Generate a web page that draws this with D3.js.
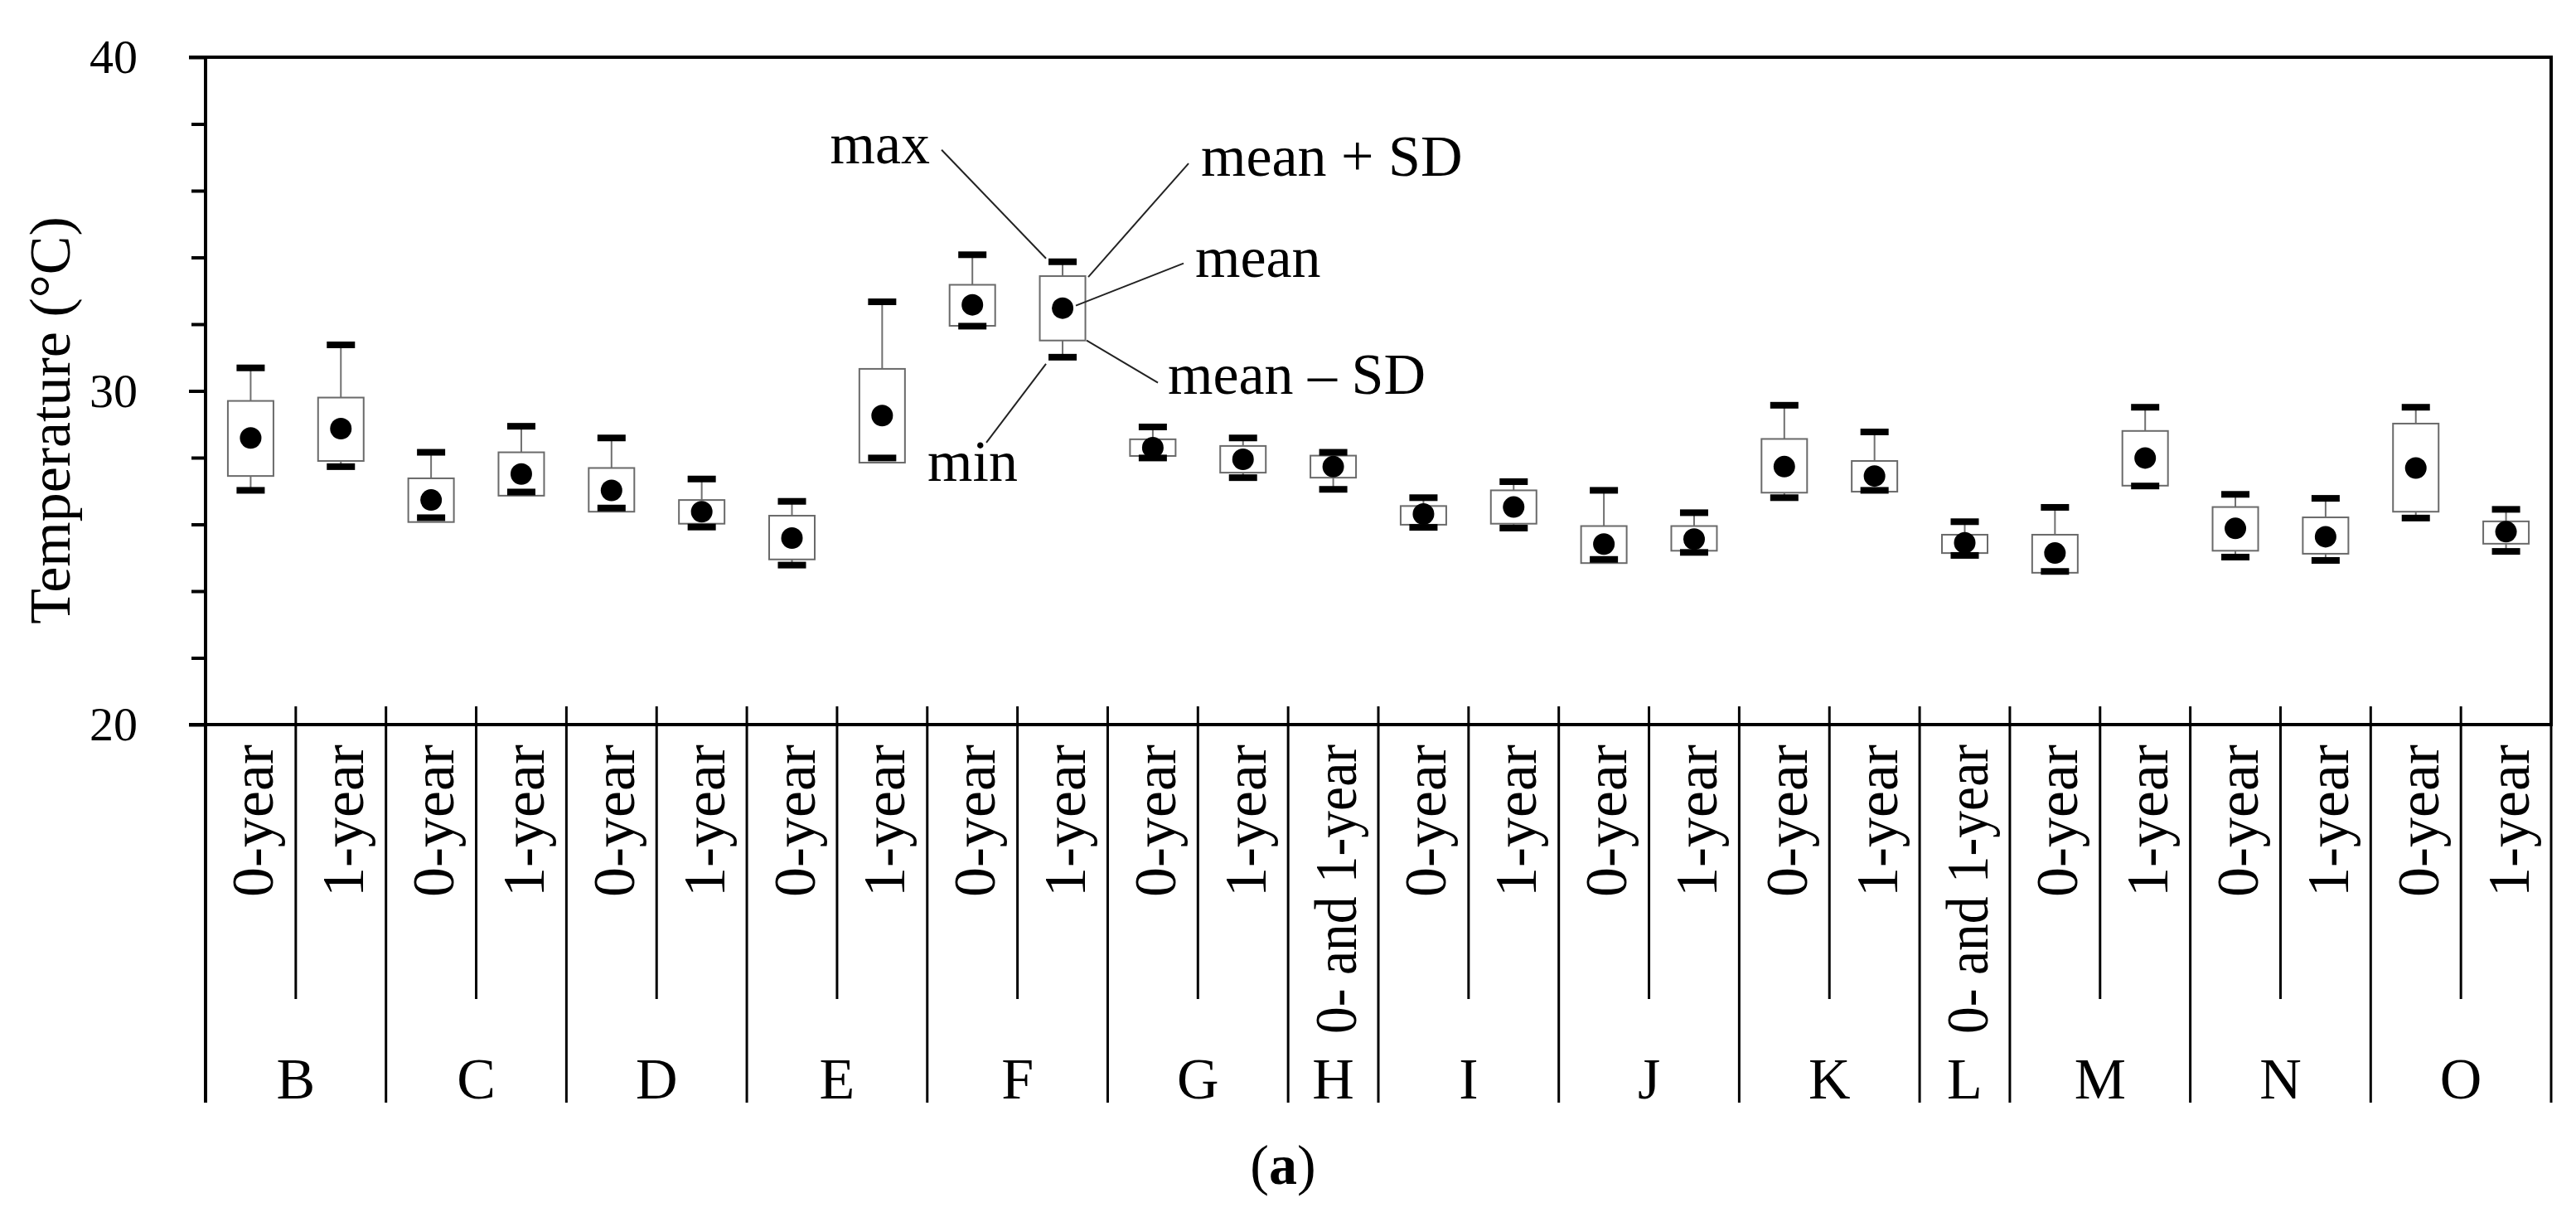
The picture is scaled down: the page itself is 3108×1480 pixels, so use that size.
<!DOCTYPE html>
<html>
<head>
<meta charset="utf-8">
<script src="https://cdn.jsdelivr.net/npm/d3@7"></script>
<style>
  html, body { margin: 0; padding: 0; background: #fff; }
  svg { display: block; }
  text { font-family: 'Liberation Serif', 'Times New Roman', serif; fill: #000; }
</style>
</head>
<body>
<svg id="chart" width="3108" height="1480"></svg>
<script>
// ---------------- data ----------------
const groups       = ["B","C","D","E","F","G","H","I","J","K","L","M","N","O"];
const categoryGroup = ["B","B","C","C","D","D","E","E","F","F","G","G","H","I","I","J","J","K","K","L","M","M","N","N","O","O"];
const categoryLabel = ["0-year","1-year","0-year","1-year","0-year","1-year","0-year","1-year","0-year","1-year",
                       "0-year","1-year","0- and 1-year","0-year","1-year","0-year","1-year","0-year","1-year",
                       "0- and 1-year","0-year","1-year","0-year","1-year","0-year","1-year"];
const maxValues   = [30.69,31.38,28.16,28.94,28.59,27.36,26.69,32.67,34.08,33.87,28.92,28.59,28.16,26.80,27.28,27.02,26.35,29.57,28.77,26.08,26.51,29.51,26.90,26.78,29.51,26.45];
const meanPlusSD  = [29.70,29.80,27.38,28.16,27.69,26.73,26.26,30.66,33.18,33.44,28.55,28.35,28.06,26.55,27.02,25.95,25.95,28.56,27.90,25.69,25.69,28.80,26.52,26.21,29.02,26.09];
const meanValues  = [28.59,28.87,26.73,27.51,27.02,26.38,25.59,29.26,32.58,32.48,28.30,27.95,27.73,26.31,26.52,25.41,25.56,27.73,27.45,25.45,25.14,27.99,25.88,25.63,27.69,25.78];
const meanMinusSD = [27.45,27.90,26.07,26.86,26.38,26.02,24.95,27.85,31.95,31.51,28.05,27.55,27.40,25.99,26.02,24.84,25.21,26.95,26.98,25.14,24.55,27.16,25.21,25.12,26.38,25.42];
const minValues   = [27.02,27.73,26.20,26.97,26.49,25.92,24.78,27.99,31.94,31.01,27.99,27.40,27.05,25.91,25.89,24.95,25.16,26.80,27.02,25.07,24.59,27.15,25.02,24.92,26.19,25.19];
const majorTicks = [20,30,40];
const minorTicks = [22,24,26,28,32,34,36,38];
const yTitle = "Temperature (°C)";
const annotationIndex = 9; // F 1-year box carries the legend annotations

// ---------------- layout ----------------
const svg = d3.select("#chart");
svg.append("rect").attr("width",3108).attr("height",1480).attr("fill","#fff");

const plotLeft = 248, plotRight = 3078, plotTop = 69, plotBottom = 874;
const divLong = 1330, divShort = 1205;

const idx = d3.range(categoryLabel.length);
const x = d3.scaleBand().domain(idx).range([plotLeft, plotRight]).padding(0);
const y = d3.scaleLinear().domain([20, 40]).range([plotBottom, plotTop]);
const bw = x.bandwidth();
const cxOf = i => x(i) + bw / 2;

// ---------------- y axis ----------------
const gMajor = svg.append("g").attr("transform", `translate(${plotLeft},0)`)
  .call(d3.axisLeft(y).tickValues(majorTicks).tickSize(20).tickPadding(62).tickFormat(d3.format("d")));
gMajor.select(".domain").remove();
gMajor.selectAll(".tick line").attr("stroke","#000").attr("stroke-width",4);
gMajor.selectAll(".tick text").attr("font-size",58).attr("font-family","'Liberation Serif', serif").attr("fill","#000");

const gMinor = svg.append("g").attr("transform", `translate(${plotLeft},0)`)
  .call(d3.axisLeft(y).tickValues(minorTicks).tickSize(17).tickFormat(""));
gMinor.select(".domain").remove();
gMinor.selectAll(".tick line").attr("stroke","#000").attr("stroke-width",4);

// frame lines
svg.append("line").attr("x1",plotLeft-20).attr("x2",plotRight+2).attr("y1",plotTop).attr("y2",plotTop)
  .attr("stroke","#000").attr("stroke-width",4);
svg.append("line").attr("x1",plotLeft-20).attr("x2",plotRight+2).attr("y1",plotBottom).attr("y2",plotBottom)
  .attr("stroke","#000").attr("stroke-width",4);
svg.append("line").attr("x1",plotLeft).attr("x2",plotLeft).attr("y1",plotTop-2).attr("y2",divLong)
  .attr("stroke","#000").attr("stroke-width",4);
svg.append("line").attr("x1",plotRight).attr("x2",plotRight).attr("y1",plotTop-2).attr("y2",plotBottom)
  .attr("stroke","#000").attr("stroke-width",4);

// y title
svg.append("text")
  .attr("transform", `translate(84,507) rotate(-90)`)
  .attr("text-anchor","middle")
  .attr("font-size",70)
  .text(yTitle);

// ---------------- category boundaries ----------------
const boundaries = d3.range(1, categoryLabel.length + 1);
boundaries.forEach(b => {
  const bx = b < categoryLabel.length ? x(b) : plotRight;
  svg.append("line").attr("x1",bx).attr("x2",bx).attr("y1",plotBottom-22).attr("y2",plotBottom)
    .attr("stroke","#000").attr("stroke-width",3);
  const isGroupEnd = b === categoryLabel.length || categoryGroup[b] !== categoryGroup[b-1];
  svg.append("line").attr("x1",bx).attr("x2",bx).attr("y1",plotBottom)
    .attr("y2", isGroupEnd ? divLong : divShort)
    .attr("stroke","#000").attr("stroke-width", 3);
});

// rotated sub labels
svg.append("g").selectAll("text").data(idx).join("text")
  .attr("transform", i => `translate(${cxOf(i) + 27},898) rotate(-90)`)
  .attr("text-anchor","end")
  .attr("font-size",72)
  .each(function(i){
    if (categoryLabel[i].length > 8) {
      d3.select(this).attr("textLength",349).attr("lengthAdjust","spacingAndGlyphs");
    }
  })
  .text(i => categoryLabel[i]);

// group labels
svg.append("g").selectAll("text").data(groups).join("text")
  .attr("x", g => {
    const members = idx.filter(i => categoryGroup[i] === g);
    return (x(members[0]) + x(members[members.length-1]) + bw) / 2;
  })
  .attr("y",1325)
  .attr("text-anchor","middle")
  .attr("font-size",70)
  .text(g => g);

// ---------------- boxes ----------------
const boxW = 55, capW = 34, capH = 8;
const gBox = svg.append("g");
const boxes = gBox.selectAll("g").data(idx).join("g");
boxes.append("line")
  .attr("x1", cxOf).attr("x2", cxOf)
  .attr("y1", i => y(maxValues[i])).attr("y2", i => y(minValues[i]))
  .attr("stroke","#707070").attr("stroke-width",2);
boxes.append("rect")
  .attr("x", i => cxOf(i) - boxW/2)
  .attr("width", boxW)
  .attr("y", i => y(meanPlusSD[i]))
  .attr("height", i => y(meanMinusSD[i]) - y(meanPlusSD[i]))
  .attr("fill","#fff").attr("stroke","#6a6a6a").attr("stroke-width",2);
boxes.append("rect")
  .attr("x", i => cxOf(i) - capW/2).attr("width", capW)
  .attr("y", i => y(maxValues[i]) - capH/2).attr("height", capH)
  .attr("fill","#000");
boxes.append("rect")
  .attr("x", i => cxOf(i) - capW/2).attr("width", capW)
  .attr("y", i => y(minValues[i]) - capH/2).attr("height", capH)
  .attr("fill","#000");
boxes.append("circle")
  .attr("cx", cxOf).attr("cy", i => y(meanValues[i]))
  .attr("r", 13).attr("fill","#000");

// ---------------- legend annotations ----------------
const a = annotationIndex, acx = cxOf(a);
const ann = [
  {t:"max",       p:[acx-20,  y(maxValues[a])-4],   q:[acx-146, y(maxValues[a])-135], tx:acx-160, ty:y(maxValues[a])-119, anchor:"end"},
  {t:"mean + SD", p:[acx+31,  y(meanPlusSD[a])+1],  q:[acx+152, y(meanPlusSD[a])-136], tx:acx+167, ty:y(meanPlusSD[a])-121, anchor:"start"},
  {t:"mean",      p:[acx+16,  y(meanValues[a])-3],  q:[acx+146, y(meanValues[a])-54], tx:acx+160, ty:y(meanValues[a])-38, anchor:"start"},
  {t:"mean \u2013 SD", p:[acx+29, y(meanMinusSD[a])], q:[acx+115, y(meanMinusSD[a])+51], tx:acx+127, ty:y(meanMinusSD[a])+64, anchor:"start"},
  {t:"min",       p:[acx-20,  y(minValues[a])+8],   q:[acx-92,  y(minValues[a])+103], tx:acx-163, ty:y(minValues[a])+149, anchor:"start"}
];
const gAnn = svg.append("g");
ann.forEach(d => {
  gAnn.append("line").attr("x1",d.p[0]).attr("y1",d.p[1]).attr("x2",d.q[0]).attr("y2",d.q[1])
    .attr("stroke","#222").attr("stroke-width",2);
  gAnn.append("text").attr("x",d.tx).attr("y",d.ty).attr("text-anchor",d.anchor)
    .attr("font-size",70).text(d.t);
});

// panel label
const pl = svg.append("text").attr("x",1548).attr("y",1428).attr("text-anchor","middle")
  .attr("font-size",68).attr("font-weight","bold");
pl.append("tspan").attr("font-weight","normal").text("(");
pl.append("tspan").text("a");
pl.append("tspan").attr("font-weight","normal").text(")");
</script>
</body>
</html>
